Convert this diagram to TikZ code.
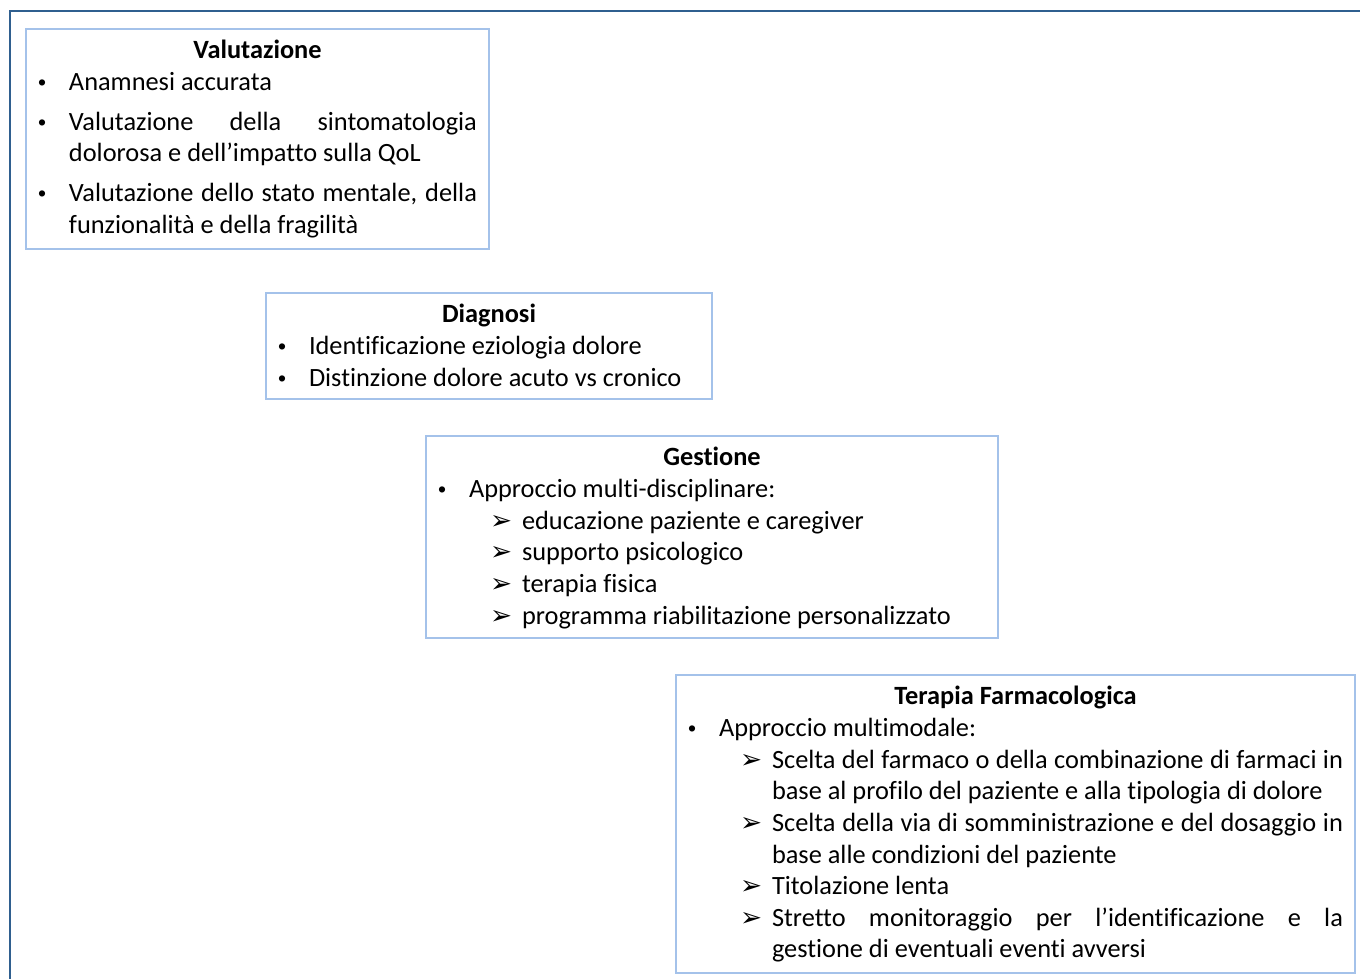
\documentclass[tikz,border=0pt]{standalone}
\usepackage{fontspec}
\setmainfont{Carlito}[Ligatures={NoCommon,NoRare}]
\newfontfamily\arrowfont{DejaVu Sans}
\newfontfamily\dotfont{Liberation Sans}
\definecolor{framecol}{HTML}{2F5F8F}
\definecolor{boxcol}{HTML}{A4C2EA}
\newdimen\px \px=0.02cm
\hyphenpenalty=10000
\exhyphenpenalty=10000
\newcommand{\btitle}[1]{\centerline{\bfseries #1}}
\newcommand{\bitem}[1]{\par\noindent\hangindent=31\px\hangafter=1\makebox[31\px][l]{\dotfont\fontsize{13}{13}\selectfont •}#1}
\newcommand{\aitem}[1]{\par\noindent\hangindent=84\px\hangafter=1\hspace*{52\px}\makebox[32\px][l]{\arrowfont\fontsize{15}{15}\selectfont ➢}#1}

\begin{document}
\begin{tikzpicture}[x=0.02cm, y=-0.02cm,
  stage/.style={draw=boxcol, line width=2\px, anchor=north west, align=justify,
    inner xsep=12\px, inner ysep=8\px, text height=22\px,
    font=\fontsize{15}{18}\selectfont},
]
\useasboundingbox (0,0) rectangle (1360,979);
\draw [framecol, line width=2\px] (1360,11) -- (10,11) -- (10,979);

\node [stage, text width=439\px, text depth=182\px] (VAL) at (25,28) {%
  \btitle{Valutazione}
  \bitem{Anamnesi accurata}
  \par\vspace{8\px}
  \bitem{Valutazione della sintomatologia dolorosa e dell’impatto sulla QoL}
  \par\vspace{8\px}
  \bitem{Valutazione dello stato mentale, della funzionalità e della fragilità}\par};
\node [stage, text width=422\px, text depth=68\px] (DIA) at (265,292) {%
  \btitle{Diagnosi}
  \bitem{Identificazione eziologia dolore}
  \bitem{Distinzione dolore acuto vs cronico}\par};
\node [stage, text width=548\px, text depth=164\px] (GES) at (425,435) {%
  \btitle{Gestione}
  \bitem{Approccio multi-disciplinare:}
  \aitem{educazione paziente e caregiver}
  \aitem{supporto psicologico}
  \aitem{terapia fisica}
  \aitem{programma riabilitazione personalizzato}\par};
\node [stage, text width=655\px, text depth=260\px] (TER) at (675,674) {%
  \btitle{Terapia Farmacologica}
  \bitem{Approccio multimodale:}
  \aitem{Scelta del farmaco o della combinazione di farmaci in\linebreak base al profilo del paziente e alla tipologia di dolore}
  \aitem{Scelta della via di somministrazione e del dosaggio in\linebreak base alle condizioni del paziente}
  \aitem{Titolazione lenta}
  \aitem{Stretto monitoraggio per l’identificazione e la\linebreak gestione di eventuali eventi avversi}\par};
\end{tikzpicture}
\end{document}
